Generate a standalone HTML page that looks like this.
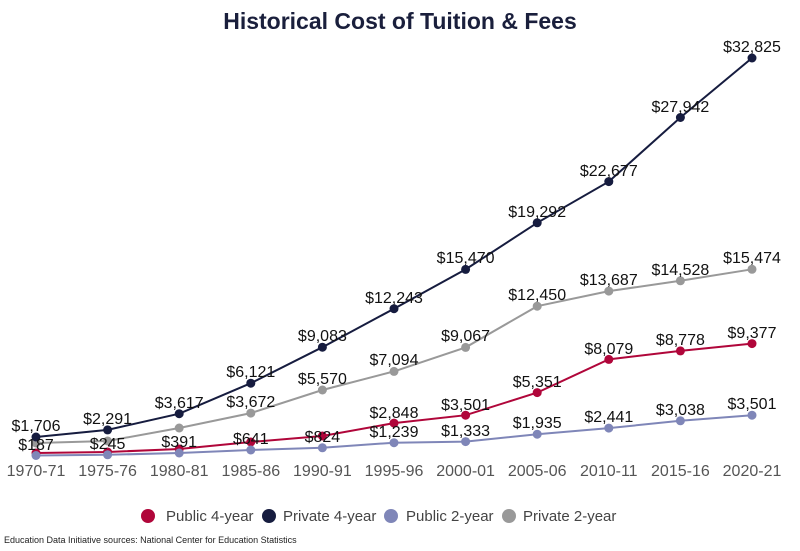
<!DOCTYPE html>
<html><head><meta charset="utf-8"><style>
body{margin:0;background:#fff}
svg{display:block;font-family:"Liberation Sans",Arial,sans-serif}
</style></head><body>
<svg width="800" height="551" viewBox="0 0 800 551">
<text x="400" y="29" text-anchor="middle" font-size="23" font-weight="bold" fill="#1a1f3c">Historical Cost of Tuition &amp; Fees</text>
<g font-size="16" fill="#555" text-anchor="middle">
<text x="36" y="476">1970-71</text><text x="107.6" y="476">1975-76</text><text x="179.2" y="476">1980-81</text><text x="250.8" y="476">1985-86</text><text x="322.4" y="476">1990-91</text><text x="394" y="476">1995-96</text><text x="465.6" y="476">2000-01</text><text x="537.2" y="476">2005-06</text><text x="608.8" y="476">2010-11</text><text x="680.4" y="476">2015-16</text><text x="752" y="476">2020-21</text>
</g>
<g fill="none" stroke-width="2">
<polyline stroke="#999" points="36,443 107.6,441 179.2,428 250.8,413.1 322.4,390 394,371.4 465.6,347.4 537.2,306.2 608.8,291.1 680.4,280.8 752,269.3"/>
<polyline stroke="#161c3f" points="36,437 107.6,429.9 179.2,413.7 250.8,383.2 322.4,347.2 394,308.7 465.6,269.4 537.2,222.8 608.8,181.6 680.4,117.5 752,58"/>
<polyline stroke="#b0063a" points="36,453 107.6,452 179.2,449 250.8,442 322.4,436 394,423.1 465.6,415.2 537.2,392.6 608.8,359.4 680.4,350.9 752,343.6"/>
<polyline stroke="#7f86b8" points="36,455.5 107.6,454.8 179.2,453 250.8,450 322.4,447.8 394,442.7 465.6,441.6 537.2,434.2 608.8,428.1 680.4,420.8 752,415.2"/>
</g>
<g fill="#999"><circle cx="36" cy="443" r="4.5"/><circle cx="107.6" cy="441" r="4.5"/><circle cx="179.2" cy="428" r="4.5"/><circle cx="250.8" cy="413.1" r="4.5"/><circle cx="322.4" cy="390" r="4.5"/><circle cx="394" cy="371.4" r="4.5"/><circle cx="465.6" cy="347.4" r="4.5"/><circle cx="537.2" cy="306.2" r="4.5"/><circle cx="608.8" cy="291.1" r="4.5"/><circle cx="680.4" cy="280.8" r="4.5"/><circle cx="752" cy="269.3" r="4.5"/></g>
<g fill="#161c3f"><circle cx="36" cy="437" r="4.5"/><circle cx="107.6" cy="429.9" r="4.5"/><circle cx="179.2" cy="413.7" r="4.5"/><circle cx="250.8" cy="383.2" r="4.5"/><circle cx="322.4" cy="347.2" r="4.5"/><circle cx="394" cy="308.7" r="4.5"/><circle cx="465.6" cy="269.4" r="4.5"/><circle cx="537.2" cy="222.8" r="4.5"/><circle cx="608.8" cy="181.6" r="4.5"/><circle cx="680.4" cy="117.5" r="4.5"/><circle cx="752" cy="58" r="4.5"/></g>
<g fill="#b0063a"><circle cx="36" cy="453" r="4.5"/><circle cx="107.6" cy="452" r="4.5"/><circle cx="179.2" cy="449" r="4.5"/><circle cx="250.8" cy="442" r="4.5"/><circle cx="322.4" cy="436" r="4.5"/><circle cx="394" cy="423.1" r="4.5"/><circle cx="465.6" cy="415.2" r="4.5"/><circle cx="537.2" cy="392.6" r="4.5"/><circle cx="608.8" cy="359.4" r="4.5"/><circle cx="680.4" cy="350.9" r="4.5"/><circle cx="752" cy="343.6" r="4.5"/></g>
<g fill="#7f86b8"><circle cx="36" cy="455.5" r="4.5"/><circle cx="107.6" cy="454.8" r="4.5"/><circle cx="179.2" cy="453" r="4.5"/><circle cx="250.8" cy="450" r="4.5"/><circle cx="322.4" cy="447.8" r="4.5"/><circle cx="394" cy="442.7" r="4.5"/><circle cx="465.6" cy="441.6" r="4.5"/><circle cx="537.2" cy="434.2" r="4.5"/><circle cx="608.8" cy="428.1" r="4.5"/><circle cx="680.4" cy="420.8" r="4.5"/><circle cx="752" cy="415.2" r="4.5"/></g>
<g font-size="16" fill="#111" text-anchor="middle">
<text x="36" y="431">$1,706</text><text x="107.6" y="424">$2,291</text><text x="179.2" y="408">$3,617</text><text x="250.8" y="377">$6,121</text><text x="322.4" y="341">$9,083</text><text x="394" y="303">$12,243</text><text x="465.6" y="263">$15,470</text><text x="537.2" y="217">$19,292</text><text x="608.8" y="176">$22,677</text><text x="680.4" y="112">$27,942</text><text x="752" y="52">$32,825</text>
<text x="250.8" y="407">$3,672</text><text x="322.4" y="384">$5,570</text><text x="394" y="365">$7,094</text><text x="465.6" y="341">$9,067</text><text x="537.2" y="300">$12,450</text><text x="608.8" y="285">$13,687</text><text x="680.4" y="275">$14,528</text><text x="752" y="263">$15,474</text>
<text x="394" y="418">$2,848</text><text x="465.6" y="410">$3,501</text><text x="537.2" y="387">$5,351</text><text x="608.8" y="354">$8,079</text><text x="680.4" y="345">$8,778</text><text x="752" y="338">$9,377</text>
<text x="36" y="450">$187</text><text x="107.6" y="449">$245</text><text x="179.2" y="447">$391</text><text x="250.8" y="444">$641</text><text x="322.4" y="442">$824</text><text x="394" y="437">$1,239</text><text x="465.6" y="436">$1,333</text><text x="537.2" y="428">$1,935</text><text x="608.8" y="422">$2,441</text><text x="680.4" y="415">$3,038</text><text x="752" y="409">$3,501</text>
</g>
<g font-size="15" fill="#444">
<circle cx="148" cy="516" r="7" fill="#b0063a"/><text x="166" y="521">Public 4-year</text>
<circle cx="269" cy="516" r="7" fill="#161c3f"/><text x="283" y="521">Private 4-year</text>
<circle cx="391" cy="516" r="7" fill="#7f86b8"/><text x="406" y="521">Public 2-year</text>
<circle cx="509" cy="516" r="7" fill="#999"/><text x="523" y="521">Private 2-year</text>
</g>
<text x="4" y="543" font-size="9" fill="#222">Education Data Initiative sources: National Center for Education Statistics</text>
</svg>
</body></html>
